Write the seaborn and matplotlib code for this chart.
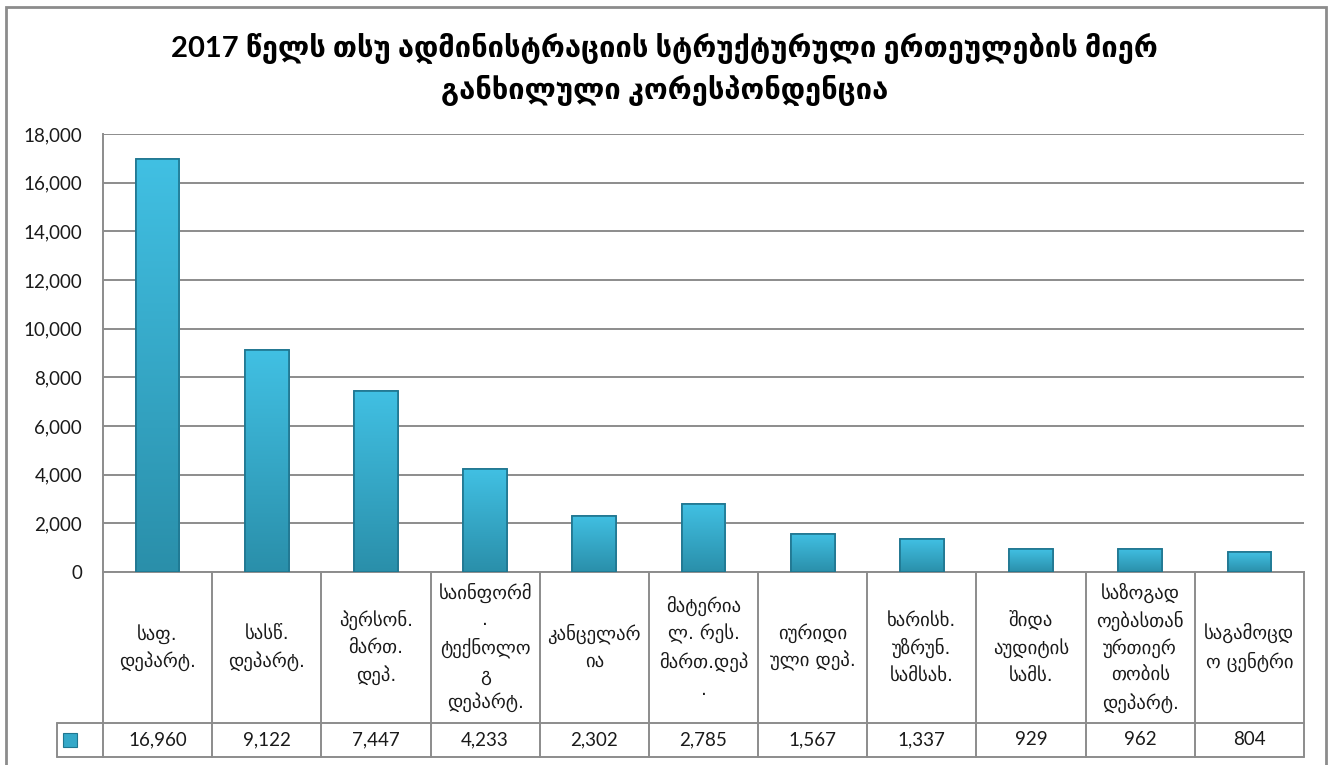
import numpy as np
import pandas as pd
import matplotlib
matplotlib.use("Agg")
import matplotlib.pyplot as plt
import matplotlib.transforms as mtransforms
from matplotlib.patches import Rectangle
import seaborn as sns

# data
categories = [
    "საფ.\nდეპარტ.",
    "სასწ.\nდეპარტ.",
    "პერსონ.\nმართ.\nდეპ.",
    "საინფორმ\n.\nტექნოლო\nგ\nდეპარტ.",
    "კანცელარ\nია",
    "მატერია\nლ. რეს.\nმართ.დეპ\n.",
    "იურიდი\nული დეპ.",
    "ხარისხ.\nუზრუნ.\nსამსახ.",
    "შიდა\nაუდიტის\nსამს.",
    "საზოგად\nოებასთან\nურთიერ\nთობის\nდეპარტ.",
    "საგამოცდ\nო ცენტრი",
]
values = [16960, 9122, 7447, 4233, 2302, 2785, 1567, 1337, 929, 962, 804]
yticks = [0, 2000, 4000, 6000, 8000, 10000, 12000, 14000, 16000, 18000]
title_1 = "2017 წელს თსუ ადმინისტრაციის სტრუქტურული ერთეულების მიერ"
title_2 = "განხილული კორესპონდენცია"

df = pd.DataFrame({"cat": categories, "val": values})

sns.set_style("white")
plt.rcParams["font.family"] = ["Lato", "DejaVu Sans"]

grid_c = "#8C8C8C"
top_c = "#41C0E3"
bot_c = "#2A8FAA"

fig = plt.figure(figsize=(13.29, 7.65), dpi=100)
ax = fig.add_axes([0.0775, 0.2523, 0.9812 - 0.0775, 0.8248 - 0.2523])

sns.barplot(data=df, x="cat", y="val", order=categories, color=top_c,
            width=0.4, edgecolor="#1F7690", linewidth=1.2, ax=ax, zorder=3)

# vertical gradient on each bar
grad = np.linspace(0, 1, 256).reshape(-1, 1)
cmap = matplotlib.colors.LinearSegmentedColormap.from_list("bar", [bot_c, top_c])
for p in list(ax.patches):
    x0, y0 = p.get_x(), p.get_y()
    w, h = p.get_width(), p.get_height()
    im = ax.imshow(grad, cmap=cmap, origin="lower", aspect="auto",
                   extent=[x0, x0 + w, y0, y0 + h], zorder=3.5)
    im.set_clip_path(p)
    # redraw the outline on top of the gradient
    ax.add_patch(Rectangle((x0, y0), w, h, fill=False, edgecolor="#1F7690",
                           linewidth=1.2, zorder=4))

ax.set_xlim(-0.5, len(categories) - 0.5)
ax.set_ylim(0, 18000)
ax.set_yticks(yticks)
ax.set_yticklabels([f"{v:,}" for v in yticks], fontsize=13.5, color="#1A1A1A")
ax.tick_params(axis="y", length=0, pad=15)
ax.set_xticks([])
ax.set_xlabel("")
ax.set_ylabel("")
ax.yaxis.grid(True, color=grid_c, linewidth=1.4, zorder=0)
ax.set_axisbelow(True)
for s in ["top", "right"]:
    ax.spines[s].set_visible(False)
for s in ["left", "bottom"]:
    ax.spines[s].set_color(grid_c)
    ax.spines[s].set_linewidth(1.4)

# data table below the axis
tr = mtransforms.blended_transform_factory(ax.transData, ax.transAxes)
n = len(categories)
row1 = -0.3447
row2 = -0.4224
key_left = -0.921
lk = dict(color=grid_c, linewidth=1.4, transform=tr, clip_on=False)
ax.plot([key_left, n - 0.5], [row1, row1], **lk)
ax.plot([key_left, n - 0.5], [row2, row2], **lk)
ax.plot([key_left, key_left], [row1, row2], **lk)
for i in range(n + 1):
    ax.plot([i - 0.5, i - 0.5], [0, row2], **lk)

for i, (c, v) in enumerate(zip(categories, values)):
    ax.text(i, row1 / 2, c, ha="center", va="center", fontsize=13.5,
            linespacing=1.5, color="#1A1A1A", transform=tr, clip_on=False,
            family=["DejaVu Sans"])
    ax.text(i, (row1 + row2) / 2, f"{v:,}", ha="center", va="center",
            fontsize=13.5, color="#1A1A1A", transform=tr, clip_on=False)

# legend key inside the table
key = Rectangle((key_left + 0.055, (row1 + row2) / 2 - 0.015), 0.128, 0.03,
                transform=tr, clip_on=False, facecolor="#34A8C8",
                edgecolor="#1F7690", linewidth=0.8)
ax.add_patch(key)

fig.text(0.5, 1 - 48 / 765, title_1, ha="center", va="center",
         fontsize=21, fontweight="bold", color="#000000")
fig.text(0.5, 1 - 90 / 765, title_2, ha="center", va="center",
         fontsize=21, fontweight="bold", color="#000000")

# outer chart border
fig.patches.append(Rectangle((6 / 1329, -0.02), 1320 / 1329, 1.02 - 7 / 765,
                             transform=fig.transFigure, fill=False,
                             edgecolor=grid_c, linewidth=2))

fig.savefig("out.png", dpi=100, facecolor="white")
